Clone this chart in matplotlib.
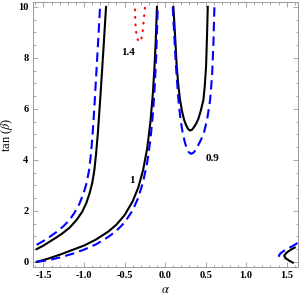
import matplotlib
matplotlib.use("Agg")
import matplotlib.pyplot as plt
from matplotlib.ticker import MultipleLocator, FormatStrFormatter

plt.rcParams['font.family'] = ['Liberation Serif', 'DejaVu Serif']
plt.rcParams['mathtext.fontset'] = 'stix'

# ratio = 1 (black), 0.9 (blue dashed), 1.4 (red dotted)
# lower branch reaching tan(beta) = 0 at alpha = -pi/2
a_k_low = [-1.584, -1.45, -1.3, -1.15, -1.0, -0.85, -0.7, -0.6, -0.5, -0.4,
           -0.33, -0.27, -0.22, -0.18, -0.15, -0.13, -0.115, -0.1]
t_k_low = [0.0, 0.12, 0.28, 0.46, 0.64, 0.88, 1.19, 1.46, 1.83, 2.37,
           2.92, 3.61, 4.46, 5.50, 6.62, 7.65, 8.66, 10.0]
a_b_low = [-1.584, -1.45, -1.3, -1.15, -1.0, -0.85, -0.7, -0.6, -0.5, -0.4,
           -0.33, -0.27, -0.22, -0.18, -0.15, -0.13, -0.11, -0.09]
t_b_low = [0.0, 0.06, 0.17, 0.31, 0.48, 0.69, 0.98, 1.22, 1.54, 2.02,
           2.52, 3.15, 3.90, 4.80, 5.80, 6.75, 8.0, 10.0]

# upper-left branch
a_k_up = [-1.584, -1.50, -1.42, -1.345, -1.265, -1.175, -1.09, -1.025, -0.972,
          -0.93, -0.898, -0.872, -0.852, -0.83, -0.808, -0.787, -0.757, -0.728]
t_k_up = [0.50, 0.64, 0.80, 0.95, 1.12, 1.35, 1.65, 1.95, 2.30,
          2.70, 3.1, 3.6, 4.2, 5.0, 6.0, 7.0, 8.5, 10.0]
a_b_up = [-1.584, -1.50, -1.42, -1.34, -1.26, -1.185, -1.12, -1.06, -1.005,
          -0.967, -0.937, -0.912, -0.893, -0.873, -0.855, -0.828, -0.802]
t_b_up = [0.67, 0.82, 0.99, 1.17, 1.38, 1.62, 1.91, 2.25, 2.69,
          3.1, 3.6, 4.3, 5.05, 6.0, 7.0, 8.5, 10.0]

# U shaped branch
a_k_u = [0.103, 0.125, 0.144, 0.165, 0.185, 0.21, 0.235, 0.26, 0.285, 0.309,
         0.335, 0.36, 0.385, 0.412, 0.44, 0.473, 0.49, 0.506, 0.517, 0.527]
t_k_u = [10.0, 8.8, 7.66, 6.9, 6.35, 5.9, 5.57, 5.36, 5.21, 5.15,
         5.19, 5.30, 5.43, 5.62, 5.92, 6.35, 6.9, 7.66, 8.8, 10.0]
a_b_u = [0.095, 0.115, 0.135, 0.165, 0.19, 0.218, 0.245, 0.27, 0.295, 0.321,
         0.35, 0.38, 0.41, 0.445, 0.481, 0.52, 0.556, 0.58, 0.596, 0.609]
t_b_u = [10.0, 8.8, 7.66, 6.35, 5.6, 5.05, 4.68, 4.43, 4.29, 4.24,
         4.28, 4.40, 4.58, 4.8, 5.08, 5.6, 6.35, 7.3, 8.5, 10.0]

# small pieces near alpha = pi/2
a_k_r = [1.60, 1.564, 1.52, 1.49, 1.469, 1.49, 1.53, 1.576]
t_k_r = [0.56, 0.50, 0.41, 0.33, 0.235, 0.14, 0.05, -0.03]
a_b_r = [1.634, 1.60, 1.55, 1.50, 1.46, 1.425, 1.405, 1.41, 1.44, 1.47]
t_b_r = [0.74, 0.67, 0.58, 0.50, 0.42, 0.34, 0.25, 0.19, 0.14, 0.11]

# 1.4 contour
a_r = [-0.370, -0.368, -0.363, -0.352, -0.335, -0.318, -0.300, -0.285,
       -0.272, -0.262, -0.254, -0.247]
t_r = [9.9, 9.5, 9.2, 8.9, 8.7, 8.63, 8.66, 8.85, 9.15, 9.5, 9.8, 10.0]

labels = ['1.4', '1', '0.9']
label_pos = [(-0.45, 8.2), (-0.41, 3.2), (0.58, 4.05)]

fig = plt.figure(figsize=(2.99, 3.01), dpi=100)
ax = fig.add_axes([0.109, 0.113, 0.886, 0.881])

kw_k = dict(color='black', lw=1.5)
kw_b = dict(color='#0000ff', lw=1.5, dashes=(4.5, 2.5))
for a, t in [(a_k_low, t_k_low), (a_k_up, t_k_up), (a_k_u, t_k_u), (a_k_r, t_k_r)]:
    ax.plot(a, t, **kw_k)
for a, t in [(a_b_low, t_b_low), (a_b_up, t_b_up), (a_b_u, t_b_u), (a_b_r, t_b_r)]:
    ax.plot(a, t, **kw_b)
ax.plot(a_r, t_r, color='red', lw=1.5, linestyle=(0, (0.4, 3.2)), dash_capstyle='round')

for s, (x, y) in zip(labels, label_pos):
    ax.text(x, y, s, fontsize=8, fontweight='bold', ha='center', va='center')

ax.set_xlim(-1.634, 1.634)
ax.set_ylim(-0.2, 10.2)
ax.xaxis.set_major_locator(MultipleLocator(0.5))
ax.xaxis.set_minor_locator(MultipleLocator(0.1))
ax.yaxis.set_major_locator(MultipleLocator(2))
ax.yaxis.set_minor_locator(MultipleLocator(0.5))
ax.xaxis.set_major_formatter(FormatStrFormatter('%.1f'))
ax.yaxis.set_major_formatter(FormatStrFormatter('%d'))
ax.tick_params(which='both', direction='in', top=True, right=True,
               color='#999999', width=0.6, labelsize=7.5)
ax.tick_params(which='major', length=3.5, pad=3)
ax.tick_params(which='minor', length=1.8)
for lab in ax.get_xticklabels() + ax.get_yticklabels():
    lab.set_fontweight('bold')
for sp in ax.spines.values():
    sp.set_color('#999999')
    sp.set_linewidth(0.7)

ax.set_xlabel(r'$\alpha$', fontsize=9, labelpad=3)
ax.set_ylabel(r'tan ($\beta$)', fontsize=9, labelpad=2)

fig.savefig('out.png', dpi=100)
